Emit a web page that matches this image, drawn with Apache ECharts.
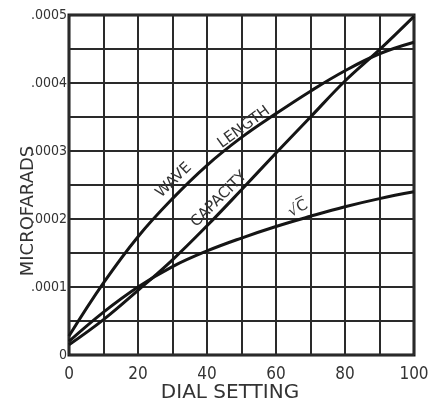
<!DOCTYPE html>
<html>
<head>
<meta charset="utf-8">
<script src="https://cdn.jsdelivr.net/npm/echarts@6/dist/echarts.min.js"></script>
<style>html,body{margin:0;padding:0;background:#fff}</style>
</head>
<body>
<div id="dial" style="width:434px;height:402px"></div>
<script>
// dial setting vs. microfarads
const dialSetting = [0, 10, 20, 30, 40, 50, 60, 70, 80, 90, 100];
const capacity   = [0.000015, 0.000052, 0.000095, 0.00014, 0.00019, 0.000243, 0.000297, 0.00035, 0.000403, 0.000449, 0.000498];
const waveLength = [0.000028, 0.000106, 0.000174, 0.00023, 0.000279, 0.00032, 0.000355, 0.000388, 0.000418, 0.000443, 0.00046];
const sqrtC      = [0.00002, 0.000063, 0.0001, 0.00013, 0.000153, 0.000172, 0.000189, 0.000204, 0.000218, 0.00023, 0.00024];
// curve captions: text, anchor [dial, mfd], angle in degrees
const captions = [
  ['WAVE', [30.4, 0.000257], 44],
  ['LENGTH', [50.7, 0.000335], 36],
  ['CAPACITY', [43.5, 0.000229], 45],
  ['\u221AC\u0305', [66.4, 0.000215], 28]
];

const font = '"DejaVu Sans Condensed", "DejaVu Sans", sans-serif';
const wide = '"DejaVu Sans", sans-serif';
const ink = '#151515';

function pairs(ys) {
  return dialSetting.map((x, i) => [x, ys[i]]);
}

const chart = echarts.init(document.getElementById('dial'));

function curve(name, ys) {
  return {
    name: name,
    type: 'line',
    data: pairs(ys),
    smooth: 0.4,
    symbol: 'none',
    lineStyle: { color: ink, width: 3 }
  };
}

chart.setOption({
  animation: false,
  backgroundColor: '#fff',
  grid: {
    left: 69, right: 20, top: 15, bottom: 47,
    containLabel: false,
    outerBoundsMode: 'none',
    show: true, borderColor: ink, borderWidth: 3
  },
  xAxis: {
    type: 'value',
    min: 0, max: 100, interval: 10,
    name: 'DIAL SETTING',
    nameLocation: 'middle',
    nameMoveOverlap: false,
    nameGap: 28,
    nameTextStyle: { fontFamily: wide, fontSize: 20, color: '#333', padding: [0, 23, 0, 0] },
    axisLine: { show: false },
    axisTick: { show: false },
    axisLabel: {
      margin: 11,
      fontFamily: font, fontSize: 17, color: '#333',
      formatter: v => (v % 20 === 0 ? String(v) : '')
    },
    splitLine: { lineStyle: { color: '#2a2a2a', width: 2 } }
  },
  yAxis: {
    type: 'value',
    min: 0, max: 0.0005, interval: 0.00005,
    name: 'MICROFARADS',
    nameLocation: 'middle',
    nameMoveOverlap: false,
    nameGap: 32,
    nameTextStyle: { fontFamily: wide, fontSize: 18, color: '#333', padding: [0, 52, 0, 0] },
    axisLine: { show: false },
    axisTick: { show: false },
    axisLabel: {
      margin: 2,
      fontFamily: font, fontSize: 14, color: '#333',
      formatter: v => {
        const n = Math.round(v * 100000);
        if (n % 10 !== 0) return '';
        return n === 0 ? '0' : '.000' + (n / 10);
      }
    },
    splitLine: { lineStyle: { color: '#2a2a2a', width: 2 } }
  },
  series: [
    curve('Capacity', capacity),
    curve('Wave length', waveLength),
    curve('\u221AC', sqrtC)
  ]
});

// place captions along the curves using the chart's own scale
chart.setOption({
  graphic: captions.map(c => {
    const p = chart.convertToPixel({ gridIndex: 0 }, c[1]);
    return {
      type: 'text',
      x: p[0], y: p[1],
      rotation: c[2] * Math.PI / 180,
      style: {
        text: c[0],
        fontFamily: wide, fontSize: 15, fill: '#333',
        align: 'center', verticalAlign: 'middle'
      }
    };
  })
});
</script>
</body>
</html>
